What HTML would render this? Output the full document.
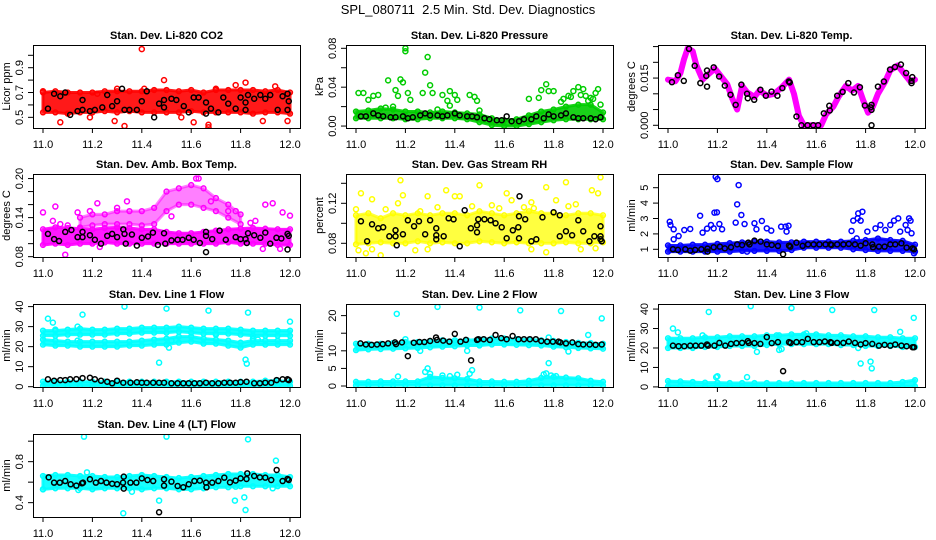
<!DOCTYPE html>
<html><head><meta charset="utf-8"><style>
html,body{margin:0;padding:0;background:#fff;}
svg{display:block;font-family:"Liberation Sans",sans-serif;}
</style></head><body>
<svg id="chart" width="936" height="540" viewBox="0 0 936 540" xmlns="http://www.w3.org/2000/svg">
<rect width="936" height="540" fill="#fff"/>
<text x="468" y="14" text-anchor="middle" font-size="13">SPL_080711&#160; 2.5 Min. Std. Dev. Diagnostics</text>
</svg>
<script>
const binX = [11.00,11.05,11.10,11.15,11.20,11.25,11.30,11.35,11.40,11.45,11.50,11.55,11.60,11.65,11.70,11.75,11.80,11.85,11.90,11.95,12.00];
const xTicks = [11.0,11.2,11.4,11.6,11.8,12.0];
const xTickLabels = ["11.0","11.2","11.4","11.6","11.8","12.0"];

// CO2
const co2Lo = [0.54,0.54,0.53,0.54,0.54,0.55,0.54,0.55,0.54,0.54,0.54,0.54,0.55,0.54,0.54,0.54,0.54,0.53,0.54,0.54,0.53];
const co2Hi = [0.70,0.71,0.70,0.70,0.70,0.71,0.71,0.71,0.71,0.72,0.72,0.71,0.72,0.70,0.72,0.72,0.72,0.72,0.71,0.72,0.70];
const co2OutX = [11.40,11.49,11.07,11.33,11.67,11.82,11.89,11.99,11.70,11.94,11.30,11.22,11.41,11.00,11.29,11.19,11.67,11.61,11.56,11.78];
const co2OutY = [1.05,0.80,0.46,0.43,0.44,0.78,0.47,0.47,0.73,0.75,0.73,0.69,0.73,0.71,0.47,0.50,0.42,0.46,0.50,0.76];
const co2BlkX = [11.02,11.045,11.07,11.09,11.11,11.14,11.16,11.16,11.19,11.21,11.24,11.26,11.28,11.30,11.32,11.33,11.35,11.38,11.40,11.42,11.45,11.47,11.49,11.49,11.52,11.54,11.57,11.59,11.61,11.63,11.66,11.66,11.68,11.71,11.73,11.75,11.78,11.80,11.82,11.83,11.82,11.855,11.88,11.90,11.92,11.95,11.97,11.99,11.995,11.99];
const co2BlkY = [0.57,0.69,0.67,0.70,0.52,0.55,0.64,0.56,0.55,0.56,0.58,0.68,0.59,0.63,0.73,0.56,0.56,0.56,0.63,0.71,0.50,0.61,0.64,0.58,0.65,0.64,0.59,0.54,0.66,0.66,0.62,0.53,0.57,0.54,0.66,0.61,0.57,0.66,0.62,0.68,0.56,0.65,0.68,0.65,0.68,0.56,0.67,0.69,0.63,0.56];

// Pressure
const prLo = [0.008,0.008,0.008,0.008,0.007,0.007,0.008,0.008,0.008,0.007,0.004,0.001,0,0,0.002,0.004,0.006,0.007,0.007,0.007,0.007];
const prHi = [0.015,0.016,0.018,0.017,0.015,0.015,0.014,0.015,0.014,0.013,0.012,0.008,0.006,0.007,0.011,0.015,0.017,0.020,0.022,0.022,0.014];
const prOutX = [11.2,11.2,11.29,11.28,11.13,11.18,11.19,11.3,11.01,11.03,11.07,11.09,11.05,11.16,11.17,11.21,11.22,11.27,11.31,11.35,11.37,11.38,11.40,11.41,11.46,11.48,11.49,11.50,11.70,11.74,11.75,11.77,11.78,11.80,11.86,11.88,11.90,11.92,11.94,11.96,11.97,11.98,11.99,11.15,11.12,11.33,11.38,11.83,11.84,11.87,11.91,11.93,11.95];
const prOutY = [0.080,0.077,0.071,0.055,0.047,0.048,0.045,0.042,0.034,0.034,0.031,0.032,0.027,0.037,0.031,0.034,0.027,0.034,0.034,0.032,0.026,0.036,0.032,0.027,0.032,0.030,0.026,0.016,0.028,0.029,0.037,0.043,0.036,0.036,0.031,0.036,0.040,0.038,0.026,0.028,0.034,0.038,0.022,0.020,0.019,0.017,0.021,0.025,0.028,0.030,0.032,0.031,0.029];
const prBlkX = [11.02,11.04,11.07,11.09,11.11,11.14,11.16,11.19,11.21,11.23,11.26,11.28,11.30,11.33,11.35,11.37,11.40,11.42,11.45,11.47,11.49,11.52,11.54,11.57,11.59,11.61,11.63,11.66,11.68,11.71,11.73,11.76,11.78,11.80,11.83,11.85,11.88,11.90,11.92,11.95,11.97,11.99];
const prBlkY = [0.010,0.010,0.013,0.011,0.010,0.009,0.009,0.010,0.008,0.009,0.011,0.013,0.011,0.011,0.010,0.011,0.013,0.011,0.010,0.010,0.009,0.008,0.007,0.006,0.006,0.010,0.005,0.005,0.007,0.007,0.010,0.008,0.012,0.010,0.011,0.013,0.009,0.008,0.008,0.008,0.007,0.009];

// Li-820 Temp
const tmLineX = [11.00,11.03,11.05,11.065,11.08,11.10,11.115,11.14,11.16,11.19,11.215,11.24,11.26,11.28,11.30,11.32,11.35,11.37,11.40,11.43,11.46,11.49,11.51,11.53,11.55,11.62,11.64,11.67,11.69,11.72,11.745,11.77,11.79,11.81,11.83,11.85,11.88,11.90,11.93,11.96,11.98,12.0];
const tmLineY = [0.0145,0.014,0.0165,0.021,0.0245,0.0235,0.019,0.0145,0.016,0.018,0.0155,0.013,0.0085,0.005,0.0125,0.0105,0.009,0.011,0.0095,0.010,0.012,0.0145,0.010,0.003,0.0,0.0,0.0035,0.006,0.009,0.0125,0.011,0.0125,0.008,0.004,0.006,0.010,0.014,0.0175,0.019,0.016,0.014,0.0145];
const tmBlkX = [11.016,11.04,11.064,11.085,11.108,11.131,11.155,11.158,11.158,11.185,11.207,11.23,11.253,11.274,11.297,11.32,11.323,11.349,11.374,11.396,11.419,11.443,11.463,11.489,11.493,11.52,11.54,11.565,11.588,11.608,11.631,11.655,11.653,11.685,11.707,11.73,11.753,11.777,11.797,11.82,11.824,11.824,11.824,11.85,11.874,11.899,11.919,11.943,11.964,11.989,11.986,11.986];
const tmBlkY = [0.0137,0.0159,0.0141,0.0243,0.0189,0.0134,0.0157,0.0123,0.0174,0.0184,0.0155,0.0126,0.0097,0.0065,0.0129,0.010,0.0086,0.0081,0.0113,0.0094,0.0107,0.0094,0.0118,0.0139,0.0136,0.0028,0,0,0,0,0.0038,0.0047,0.0062,0.0094,0.0106,0.0134,0.0104,0.0121,0.0063,0.0057,0.0065,0.0049,0,0.0123,0.0139,0.0177,0.0185,0.0193,0.0166,0.0153,0.0134,0.0141];

// Amb Box Temp
const abLo = [0.098,0.100,0.098,0.100,0.100,0.102,0.100,0.100,0.100,0.100,0.100,0.100,0.100,0.100,0.100,0.102,0.100,0.100,0.100,0.098,0.098];
const abHi = [0.122,0.125,0.124,0.123,0.122,0.124,0.125,0.124,0.122,0.122,0.118,0.116,0.116,0.118,0.120,0.122,0.123,0.124,0.123,0.122,0.122];
const abUpX = [11.15,11.20,11.25,11.30,11.35,11.40,11.45,11.50,11.55,11.60,11.65,11.70,11.75,11.80];
const abUpLo = [0.125,0.128,0.130,0.130,0.130,0.128,0.130,0.150,0.160,0.160,0.155,0.150,0.140,0.130];
const abUpHi = [0.140,0.145,0.145,0.150,0.150,0.150,0.155,0.180,0.185,0.190,0.185,0.170,0.160,0.145];
const abOutX = [11.63,11.62,11.09,11.34,11.22,11.05,11.0,11.19,11.93,11.90,11.97,12.0,11.68,11.52,11.89,11.96,11.23,11.14,11.3,11.75,11.78,11.04,11.07,11.10,11.86,11.84];
const abOutY = [0.200,0.200,0.083,0.165,0.162,0.157,0.148,0.150,0.162,0.160,0.148,0.143,0.165,0.142,0.092,0.092,0.095,0.148,0.155,0.150,0.150,0.135,0.130,0.128,0.135,0.132];
const abBlkX = [11.02,11.045,11.065,11.09,11.115,11.14,11.16,11.16,11.19,11.21,11.235,11.26,11.28,11.30,11.325,11.33,11.335,11.36,11.38,11.40,11.425,11.445,11.465,11.49,11.495,11.52,11.545,11.565,11.59,11.61,11.635,11.66,11.66,11.66,11.685,11.715,11.74,11.78,11.8,11.82,11.825,11.83,11.855,11.88,11.90,11.92,11.945,11.965,11.99,11.995,11.99];
const abBlkY = [0.115,0.107,0.104,0.118,0.121,0.110,0.110,0.118,0.113,0.106,0.100,0.112,0.115,0.110,0.122,0.115,0.100,0.114,0.097,0.109,0.111,0.117,0.098,0.116,0.100,0.105,0.106,0.106,0.109,0.106,0.101,0.118,0.112,0.087,0.107,0.120,0.106,0.110,0.107,0.107,0.101,0.116,0.113,0.109,0.117,0.100,0.109,0.108,0.115,0.112,0.091];

// Gas stream RH
const rhLo = [0.079,0.080,0.081,0.080,0.080,0.082,0.080,0.081,0.080,0.080,0.082,0.081,0.080,0.081,0.080,0.080,0.080,0.081,0.080,0.080,0.081];
const rhHi = [0.108,0.110,0.105,0.110,0.108,0.110,0.108,0.110,0.110,0.108,0.112,0.110,0.108,0.110,0.112,0.110,0.110,0.108,0.110,0.110,0.108];
const rhOutX = [11.18,11.02,11.065,11.19,11.29,11.365,11.50,11.61,11.77,11.85,11.99,11.955,11.98,11.01,11.04,11.10,11.065,11.24,11.29,11.71,11.77,11.91,11.97,11.0,11.17,11.40,11.42,11.63,11.71,11.81,11.89,11.58,11.26,11.72,11.12,11.33,11.47,11.55,11.68,11.86];
const rhOutY = [0.143,0.130,0.124,0.128,0.127,0.133,0.138,0.130,0.136,0.141,0.146,0.133,0.130,0.073,0.070,0.068,0.074,0.073,0.074,0.074,0.071,0.074,0.075,0.114,0.120,0.127,0.127,0.123,0.121,0.123,0.119,0.115,0.112,0.115,0.114,0.116,0.117,0.118,0.116,0.117];
const rhBlkX = [11.02,11.045,11.065,11.09,11.11,11.135,11.16,11.16,11.165,11.19,11.21,11.235,11.255,11.28,11.30,11.325,11.325,11.325,11.355,11.375,11.395,11.42,11.44,11.465,11.49,11.49,11.495,11.52,11.545,11.565,11.59,11.61,11.635,11.657,11.66,11.66,11.662,11.685,11.71,11.73,11.755,11.80,11.825,11.825,11.85,11.875,11.90,11.92,11.945,11.965,11.99,11.99,11.995,11.99];
const rhBlkY = [0.102,0.082,0.099,0.095,0.096,0.087,0.093,0.087,0.078,0.089,0.103,0.097,0.102,0.089,0.103,0.095,0.088,0.084,0.087,0.105,0.104,0.077,0.113,0.095,0.091,0.098,0.104,0.104,0.103,0.100,0.096,0.085,0.093,0.096,0.107,0.085,0.127,0.104,0.082,0.084,0.106,0.111,0.108,0.087,0.092,0.088,0.103,0.092,0.082,0.087,0.097,0.087,0.082,0.084];

// Sample flow
const sfLo = [0.85,0.85,0.85,0.85,0.85,0.85,0.9,0.9,0.9,0.9,0.95,1.1,1.1,1.1,1.1,1.0,0.95,0.9,0.9,0.9,0.85];
const sfHi = [1.25,1.25,1.3,1.3,1.35,1.4,1.45,1.5,1.5,1.45,1.45,1.5,1.5,1.5,1.5,1.55,1.6,1.7,1.6,1.55,1.3];
const sfOutX = [11.193,11.2,11.286,11.28,11.188,11.198,11.297,11.13,11.007,11.01,11.023,11.023,11.043,11.066,11.09,11.14,11.158,11.174,11.185,11.208,11.219,11.274,11.31,11.35,11.358,11.38,11.40,11.418,11.458,11.476,11.48,11.488,11.743,11.768,11.77,11.75,11.78,11.787,11.764,11.807,11.84,11.86,11.88,11.90,11.915,11.932,11.962,11.976,11.982,11.986,11.97,11.94,11.996,11.32];
const sfOutY = [5.71,5.56,5.17,3.92,3.38,3.40,3.23,3.18,2.79,2.58,2.30,1.65,1.86,2.25,2.32,2.08,2.34,2.58,2.36,2.64,2.30,2.73,2.64,2.69,2.30,2.84,2.36,2.21,2.47,2.47,2.15,2.53,2.19,3.01,3.33,2.86,2.86,3.44,1.71,2.15,2.36,2.58,2.25,2.58,2.86,3.01,2.58,3.01,2.86,2.04,2.25,2.15,0.74,0.85];
const sfBlkX = [11.02,11.04,11.07,11.09,11.11,11.135,11.16,11.16,11.185,11.21,11.23,11.255,11.28,11.30,11.325,11.33,11.35,11.375,11.40,11.42,11.445,11.466,11.49,11.495,11.52,11.545,11.567,11.59,11.613,11.638,11.658,11.662,11.685,11.71,11.732,11.757,11.78,11.80,11.827,11.83,11.854,11.877,11.90,11.92,11.945,11.966,11.99,11.996];
const sfBlkY = [1.0,0.96,1.0,0.91,0.96,1.0,1.04,0.85,1.13,1.17,1.06,1.13,1.32,1.28,1.43,1.32,1.56,1.50,1.32,1.28,1.22,0.68,1.24,1.17,1.43,1.22,1.32,1.32,1.32,1.32,1.32,1.28,1.32,1.32,1.35,1.32,1.24,1.39,1.32,1.13,1.17,1.17,1.32,1.32,1.39,1.11,1.06,1.0];

// Line 1 flow
const l1ALo = [25.5,25.5,26,26,26,26,26.5,26.5,27,27,27,27.5,27,26.5,26.5,26.5,26,25.5,25.5,25.5,25.5];
const l1AHi = [28,28,28.5,29,28.5,28.5,29,29,29.5,29.5,29.5,30,29.5,29,29,29,28.5,28,28,28,28];
const l1BLo = [21,20.5,20.5,20,20,20,20,20.5,20.5,21,21,22,22.5,21.5,21.5,20.5,19.5,21,21,21,21];
const l1BHi = [23.5,23,22.5,22.5,22.5,22.5,22.5,22.5,23,23.5,24,25,25,24,23.5,23,22,23,23,23,23];
const l1CLo = [0.5,0.5,0.5,0.5,0.5,0.5,0.5,0.5,0.5,0.5,0.5,0.5,0.5,0.5,0.5,0.5,0.5,0.5,0.5,0.5,0.5];
const l1CHi = [2.5,2.5,2.5,2.5,2.5,2.5,2.5,2.5,2.5,2.5,2.5,2.5,2.5,2.5,2.5,2.5,2.5,2.5,3,3,2.5];
const l1OutX = [11.02,11.04,11.05,11.16,11.33,11.50,11.47,11.51,11.67,11.82,11.825,11.83,12.0,11.14,11.14,11.52,11.70,11.85,11.87];
const l1OutY = [34,32,28.5,36,40,39,12,19.5,38,13.5,11.5,37,32.5,30,23,23,26,24,23.5];
const l1BlkX = [11.02,11.045,11.07,11.09,11.11,11.135,11.16,11.19,11.21,11.235,11.26,11.28,11.30,11.325,11.354,11.38,11.40,11.42,11.446,11.47,11.49,11.52,11.545,11.568,11.59,11.613,11.635,11.66,11.685,11.71,11.734,11.757,11.78,11.80,11.824,11.855,11.878,11.90,11.924,11.946,11.97,11.99,11.995];
const l1BlkY = [3.7,3,3.3,3.3,3.7,3.8,4.3,4.5,3.7,3,2.5,1.7,3,2,2,2.2,2,2,2,2,2,1.7,1.7,1.7,1.7,1.7,1.7,2,1.7,1.7,2,2,2,2.3,2.5,1.7,1.7,2,2,3.3,3.7,3.7,3.3];

// Line 2 flow
const l2ALo = [10.2,10.4,10.5,10.6,10.7,10.8,11.0,11.2,11.3,11.5,11.5,11.8,11.8,11.7,11.6,11.5,11.2,11.0,10.8,10.7,10.6];
const l2AHi = [12.0,12.0,12.0,12.2,12.5,12.5,12.8,13.0,13.0,13.0,13.2,13.5,13.5,13.3,13.2,13.0,12.8,12.5,12.3,12.2,12.0];
const l2BLo = [0.2,0.2,0.2,0.2,0.2,0.2,0.2,0.2,0.2,0.2,0.2,0.2,0.2,0.2,0.2,0.2,0.2,0.2,0.2,0.2,0.2];
const l2BHi = [1.2,1.2,1.3,1.3,1.3,1.3,2.6,2.3,2.2,2.0,1.3,1.3,1.2,1.2,1.5,2.3,2.6,2.4,2.2,1.5,1.2];
const l2OutX = [11.165,11.33,11.50,11.665,11.83,11.995,11.20,11.94,11.78,11.78,11.17,11.29,11.47,11.86,11.26,11.45,11.28,11.30,11.35,11.38,11.41,11.46,11.76,11.77,11.79,11.81];
const l2OutY = [20.5,22.5,22.3,21.5,21.3,19.2,13.3,14.5,13.8,6.5,2.7,5.0,4.5,9.8,10,10,4.0,3.5,3.0,2.8,3.2,3.5,3.3,3.6,3.0,2.8];
const l2BlkX = [11.018,11.04,11.063,11.085,11.108,11.13,11.158,11.162,11.186,11.21,11.234,11.257,11.277,11.30,11.324,11.328,11.353,11.378,11.40,11.423,11.445,11.466,11.49,11.495,11.517,11.542,11.565,11.588,11.61,11.634,11.658,11.68,11.704,11.728,11.75,11.774,11.797,11.82,11.827,11.85,11.876,11.90,11.92,11.946,11.97,11.995];
const l2BlkY = [12.1,11.8,11.7,11.8,11.9,12.1,12.4,11.9,12.4,8.5,12.3,12.5,12.5,12.8,13.8,13.1,12.9,12.6,14.8,12.6,13.1,7.3,13.1,13.3,13.3,13.1,14.5,13.6,13.3,14.2,13.3,13.3,13.3,13.3,12.8,12.6,12.6,12.6,12.4,12.1,12.4,11.9,11.8,11.8,11.7,11.8];

// Line 3 flow
const l3ALo = [20,20,20,20.5,20.5,21,21,21,21.5,22,22,22,22,22,21.5,21.5,21,21,21,20.5,20.5];
const l3AHi = [25,25,25,25.5,25.5,26,26,26,26.5,26.5,27,27,27,26.5,26.5,26,26,25.5,25.5,25,25];
const l3BLo = [0.3,0.3,0.3,0.3,0.3,0.3,0.3,0.3,0.3,0.3,0.3,0.3,0.3,0.3,0.3,0.3,0.3,0.3,0.3,0.3,0.3];
const l3BHi = [3,2.8,2.5,2.2,2.2,2,2,2,2,2,2,2,2,2,2,2,2,2,2,2.5,3.5];
const l3OutX = [11.02,11.04,11.165,11.20,11.195,11.32,11.335,11.36,11.45,11.46,11.50,11.665,11.78,11.82,11.825,11.835,11.94,11.995,11.77,11.14,11.44,11.56];
const l3OutY = [30,28,38.5,5.5,5,5,41.5,18,19,19.5,40.5,39.5,12,13,9.5,39.5,28.3,35.5,20,26.5,26.5,27.5];
const l3BlkX = [11.02,11.043,11.066,11.09,11.112,11.135,11.158,11.162,11.188,11.208,11.232,11.255,11.277,11.30,11.323,11.327,11.35,11.374,11.40,11.42,11.445,11.466,11.49,11.496,11.52,11.543,11.566,11.59,11.613,11.635,11.658,11.662,11.685,11.71,11.732,11.757,11.78,11.80,11.827,11.854,11.877,11.90,11.92,11.945,11.966,11.99,11.996];
const l3BlkY = [21.2,20.9,20.9,21.2,21.2,21.2,21.8,21.2,21.2,22.6,21.2,22.1,22.5,22.6,23.5,22.6,22.5,22.1,25.6,22.5,23,8.1,23,22.6,23,23,24.7,23,23,23.3,23,22.6,22.6,22.6,23.3,22.6,21.8,22.5,22.1,21.2,21.6,21.2,21.8,21.2,20.9,20.4,20.4];

// Line 4 flow
const l4Lo = [0.53,0.54,0.54,0.54,0.53,0.54,0.54,0.54,0.53,0.54,0.54,0.53,0.53,0.54,0.55,0.55,0.56,0.56,0.56,0.56,0.56];
const l4Hi = [0.66,0.67,0.67,0.66,0.66,0.65,0.65,0.66,0.67,0.66,0.65,0.64,0.65,0.66,0.67,0.68,0.68,0.68,0.67,0.67,0.65];
const l4OutX = [11.166,11.50,11.83,11.943,11.325,11.47,11.36,11.777,11.815,11.82,11.178,11.143,11.0,11.78,11.93];
const l4OutY = [1.044,1.044,1.018,0.81,0.296,0.42,0.507,0.42,0.452,0.328,0.696,0.524,0.53,0.556,0.54];
const l4BlkX = [11.023,11.045,11.068,11.09,11.112,11.135,11.158,11.162,11.19,11.214,11.235,11.257,11.28,11.30,11.324,11.327,11.327,11.354,11.378,11.40,11.423,11.446,11.47,11.49,11.49,11.52,11.545,11.568,11.59,11.613,11.635,11.66,11.662,11.685,11.71,11.734,11.757,11.78,11.80,11.824,11.827,11.855,11.878,11.90,11.924,11.946,11.97,11.99,11.995];
const l4BlkY = [0.647,0.595,0.595,0.611,0.579,0.566,0.589,0.595,0.628,0.595,0.611,0.595,0.585,0.579,0.595,0.654,0.537,0.595,0.595,0.637,0.621,0.611,0.306,0.628,0.566,0.605,0.563,0.55,0.579,0.611,0.615,0.595,0.55,0.595,0.611,0.644,0.598,0.615,0.637,0.631,0.686,0.66,0.647,0.644,0.621,0.719,0.611,0.631,0.621];

const NS = "http://www.w3.org/2000/svg";
const svg = document.getElementById('chart');
const colLeft = [33, 346, 658];
const rowTop = [45, 174, 304, 434];
const BW = 267, BH = 83;

function mk(tag, attrs, parent) {
  const e = document.createElementNS(NS, tag);
  for (const k in attrs) e.setAttribute(k, attrs[k]);
  parent.appendChild(e);
  return e;
}

function panel(opts) {
  const L = colLeft[opts.col], T = rowTop[opts.row];
  const g = document.createElementNS(NS, 'g');
  
  
  svg.appendChild(g);
  const xs = v => L + 10 + (v - 11) * 247;
  const ys = v => T + BH - (v - opts.ylim[0]) / (opts.ylim[1] - opts.ylim[0]) * BH;
  const clip = 'clip-' + opts.name;
  const cp = mk('clipPath', {id: clip}, g);
  mk('rect', {x: L, y: T, width: BW, height: BH}, cp);
  const plot = mk('g', {'clip-path': 'url(#' + clip + ')'}, g);
  
  
  const c = opts.color;
  (opts.bands || []).forEach(b => {
    const bx = b.x || binX;
    let pts = bx.map((x, i) => xs(x) + ',' + ys(b.hi[i]));
    pts = pts.concat(bx.map((x, i) => xs(x) + ',' + ys(b.lo[i])).reverse());
    const op = b.op || 0.9;
    const p = mk('polygon', {points: pts.join(' '), fill: c, 'fill-opacity': op, stroke: c, 'stroke-opacity': op, 'stroke-width': 3, 'stroke-linejoin': 'round'}, plot);
    
    
    bx.forEach((x, i) => {
      [b.lo[i], b.hi[i]].forEach(v => {
        const ci = mk('circle', {cx: xs(x), cy: ys(v), r: 2.4, fill: 'none', stroke: c, 'stroke-width': 1.5}, plot);
        
        
      });
    });
  });
  if (opts.line) {
    const pts = opts.line.x.map((x, i) => xs(x) + ',' + ys(opts.line.y[i])).join(' ');
    const pl = mk('polyline', {points: pts, fill: 'none', stroke: c, 'stroke-width': 6, 'stroke-linejoin': 'round', 'stroke-linecap': 'round'}, plot);
    
    
  }
  opts.outX.forEach((x, i) => {
    const ci = mk('circle', {cx: xs(x), cy: ys(opts.outY[i]), r: 2.5, fill: 'none', stroke: c, 'stroke-width': 1.5}, plot);
    
    
  });
  opts.blkX.forEach((x, i) => {
    const ci = mk('circle', {cx: xs(x), cy: ys(opts.blkY[i]), r: 2.5, fill: 'none', stroke: '#000', 'stroke-width': 1.5}, plot);
    
    
  });
  const box = mk('rect', {x: L + 0.5, y: T + 0.5, width: BW, height: BH, fill: 'none', stroke: '#000', 'stroke-width': 1}, g);
  
  
  const xa = mk('g', {}, g);
  
  
  xTicks.forEach((v, i) => {
    mk('line', {x1: xs(v), x2: xs(v), y1: T + BH, y2: T + BH + 5, stroke: '#000'}, xa);
    const t = mk('text', {x: xs(v), y: T + BH + 20, 'text-anchor': 'middle', 'font-size': 11}, xa);
    t.textContent = xTickLabels[i];
  });
  const ya = mk('g', {}, g);
  
  
  opts.yTicks.forEach(v => {
    mk('line', {x1: L - 5, x2: L, y1: ys(v), y2: ys(v), stroke: '#000'}, ya);
  });
  opts.yLabels.forEach((lab, i) => {
    const y = ys(opts.yLabelVals[i]);
    const t = mk('text', {x: L - 10, y: y, 'text-anchor': 'middle', 'font-size': 11, transform: 'rotate(-90 ' + (L - 10) + ' ' + y + ')'}, ya);
    t.textContent = lab;
  });
  const ytl = mk('text', {x: L - 23, y: T + BH / 2, 'text-anchor': 'middle', 'font-size': 11, transform: 'rotate(-90 ' + (L - 23) + ' ' + (T + BH / 2) + ')'}, g);
  
  
  ytl.textContent = opts.ylab;
  const tt = mk('text', {x: L + BW / 2, y: T - 6, 'text-anchor': 'middle', 'font-size': 11, 'font-weight': 'bold'}, g);
  
  
  tt.textContent = opts.title;
}

panel({name:'panel-co2', col:0, row:0, title:'Stan. Dev. Li-820 CO2', ylab:'Licor ppm', color:'#ff0000', ylim:[0.414,1.083],
  yTicks:[0.5,0.6,0.7,0.8,0.9,1.0], yLabels:['0.5','0.7','0.9'], yLabelVals:[0.5,0.7,0.9],
  bands:[{lo:co2Lo, hi:co2Hi}], outX:co2OutX, outY:co2OutY, blkX:co2BlkX, blkY:co2BlkY});
panel({name:'panel-pressure', col:1, row:0, title:'Stan. Dev. Li-820 Pressure', ylab:'kPa', color:'#00cc00', ylim:[-0.002,0.0834],
  yTicks:[0,0.02,0.04,0.06,0.08], yLabels:['0.00','0.04','0.08'], yLabelVals:[0,0.04,0.08],
  bands:[{lo:prLo, hi:prHi}], outX:prOutX, outY:prOutY, blkX:prBlkX, blkY:prBlkY});
panel({name:'panel-li820-temp', col:2, row:0, title:'Stan. Dev. Li-820 Temp.', ylab:'degrees C', color:'#ff00ff', ylim:[-0.00086,0.0255],
  yTicks:[0,0.005,0.010,0.015,0.020,0.025], yLabels:['0.000','0.015'], yLabelVals:[0,0.015],
  line:{x:tmLineX, y:tmLineY}, outX:[], outY:[], blkX:tmBlkX, blkY:tmBlkY});
panel({name:'panel-amb-box-temp', col:0, row:1, title:'Stan. Dev. Amb. Box Temp.', ylab:'degrees C', color:'#ff00ff', ylim:[0.0795,0.207],
  yTicks:[0.08,0.10,0.12,0.14,0.16,0.18,0.20], yLabels:['0.08','0.14','0.20'], yLabelVals:[0.08,0.14,0.20],
  bands:[{lo:abLo, hi:abHi},{x:abUpX, lo:abUpLo, hi:abUpHi, op:0.5}], outX:abOutX, outY:abOutY, blkX:abBlkX, blkY:abBlkY});
panel({name:'panel-gas-stream-rh', col:1, row:1, title:'Stan. Dev. Gas Stream RH', ylab:'percent', color:'#ffff00', ylim:[0.0663,0.1493],
  yTicks:[0.08,0.10,0.12,0.14], yLabels:['0.08','0.12'], yLabelVals:[0.08,0.12],
  bands:[{lo:rhLo, hi:rhHi, op:0.75}], outX:rhOutX, outY:rhOutY, blkX:rhBlkX, blkY:rhBlkY});
panel({name:'panel-sample-flow', col:2, row:1, title:'Stan. Dev. Sample Flow', ylab:'ml/min', color:'#0000ff', ylim:[0.5,5.89],
  yTicks:[1,2,3,4,5], yLabels:['1','2','3','4','5'], yLabelVals:[1,2,3,4,5],
  bands:[{lo:sfLo, hi:sfHi}], outX:sfOutX, outY:sfOutY, blkX:sfBlkX, blkY:sfBlkY});
panel({name:'panel-line1-flow', col:0, row:2, title:'Stan. Dev. Line 1 Flow', ylab:'ml/min', color:'#00ffff', ylim:[-0.15,41.3],
  yTicks:[0,10,20,30,40], yLabels:['0','10','20','30','40'], yLabelVals:[0,10,20,30,40],
  bands:[{lo:l1ALo, hi:l1AHi},{lo:l1BLo, hi:l1BHi},{lo:l1CLo, hi:l1CHi}], outX:l1OutX, outY:l1OutY, blkX:l1BlkX, blkY:l1BlkY});
panel({name:'panel-line2-flow', col:1, row:2, title:'Stan. Dev. Line 2 Flow', ylab:'ml/min', color:'#00ffff', ylim:[-0.28,23.3],
  yTicks:[0,5,10,15,20], yLabels:['0','5','10','20'], yLabelVals:[0,5,10,20],
  bands:[{lo:l2ALo, hi:l2AHi},{lo:l2BLo, hi:l2BHi}], outX:l2OutX, outY:l2OutY, blkX:l2BlkX, blkY:l2BlkY});
panel({name:'panel-line3-flow', col:2, row:2, title:'Stan. Dev. Line 3 Flow', ylab:'ml/min', color:'#00ffff', ylim:[-0.05,42.6],
  yTicks:[0,10,20,30,40], yLabels:['0','10','20','30','40'], yLabelVals:[0,10,20,30,40],
  bands:[{lo:l3ALo, hi:l3AHi},{lo:l3BLo, hi:l3BHi}], outX:l3OutX, outY:l3OutY, blkX:l3BlkX, blkY:l3BlkY});
panel({name:'panel-line4-flow', col:0, row:3, title:'Stan. Dev. Line 4 (LT) Flow', ylab:'ml/min', color:'#00ffff', ylim:[0.26,1.07],
  yTicks:[0.4,0.6,0.8,1.0], yLabels:['0.4','0.8'], yLabelVals:[0.4,0.8],
  bands:[{lo:l4Lo, hi:l4Hi}], outX:l4OutX, outY:l4OutY, blkX:l4BlkX, blkY:l4BlkY});
</script>
</body></html>
